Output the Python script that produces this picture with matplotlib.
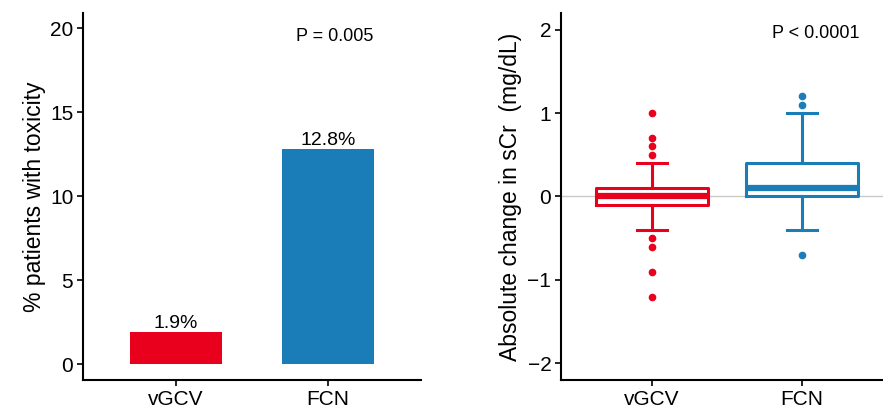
import matplotlib
matplotlib.use("Agg")
import matplotlib.pyplot as plt

plt.rcParams['font.family'] = ['Liberation Sans', 'DejaVu Sans']

groups = ["vGCV", "FCN"]
pct_toxicity = [1.9, 12.8]
bar_labels = ["1.9%", "12.8%"]
colors = ["#E8001C", "#1A7DB7"]

# boxplot summary stats for absolute change in sCr (mg/dL)
q1 = [-0.1, 0.0]
median = [0.0, 0.1]
q3 = [0.1, 0.4]
whisker_low = [-0.4, -0.4]
whisker_high = [0.4, 1.0]
outliers = [[1.0, 0.7, 0.6, 0.5, -0.5, -0.6, -0.9, -1.2],
            [1.2, 1.1, -0.7]]

p_left = "P = 0.005"
p_right = "P < 0.0001"

fig = plt.figure(figsize=(8.83, 4.11), dpi=100)
ax1 = fig.add_axes([83/883, 1-380/411, (421-83)/883, (380-13)/411])
ax2 = fig.add_axes([561/883, 1-380/411, (883-561)/883, (380-13)/411])

pos = [1, 2]
ax1.bar(pos, pct_toxicity, width=0.6, color=colors)
for x, v, lab in zip(pos, pct_toxicity, bar_labels):
    ax1.text(x, v + 0.02, lab, ha='center', va='bottom', fontsize=14)
ax1.set_xlim(0.39, 2.61)
ax1.set_ylim(-0.95, 20.9)
ax1.set_yticks([0, 5, 10, 15, 20])
ax1.set_xticks(pos)
ax1.set_xticklabels(groups)
ax1.set_ylabel("% patients with toxicity", fontsize=16.5, labelpad=3)
ax1.text(2.04, 19.5, p_left, ha='center', va='center', fontsize=13)

ax2.axhline(0, color='#C8C8C8', lw=1, zorder=0)
stats = []
for i in range(2):
    stats.append(dict(med=median[i], q1=q1[i], q3=q3[i],
                      whislo=whisker_low[i], whishi=whisker_high[i],
                      fliers=outliers[i]))
for i in range(2):
    c = colors[i]
    ax2.bxp([stats[i]], positions=[pos[i]], widths=0.75, showfliers=True,
            boxprops=dict(color=c, lw=2.2),
            medianprops=dict(color=c, lw=4.5, solid_capstyle='butt'),
            whiskerprops=dict(color=c, lw=2.2),
            capprops=dict(color=c, lw=2.2),
            capwidths=0.2,
            flierprops=dict(marker='o', markerfacecolor=c, markeredgecolor=c,
                            markersize=4.5, linestyle='none'))
ax2.set_xlim(0.395, 2.54)
ax2.set_ylim(-2.2, 2.2)
ax2.set_yticks([-2, -1, 0, 1, 2])
ax2.set_yticklabels(["\u22122", "\u22121", "0", "1", "2"])
ax2.set_xticks(pos)
ax2.set_xticklabels(groups)
ax2.set_ylabel("Absolute change in sCr  (mg/dL)", fontsize=16.5, labelpad=4)
ax2.text(2.09, 1.95, p_right, ha='center', va='center', fontsize=13)

for ax in (ax1, ax2):
    for s in ('top', 'right'):
        ax.spines[s].set_visible(False)
    for s in ('left', 'bottom'):
        ax.spines[s].set_linewidth(1.5)
    ax.tick_params(axis='both', labelsize=15, length=4, width=1.2, direction='out',
                   colors='black', pad=3)

fig.savefig("out.png", dpi=100)
